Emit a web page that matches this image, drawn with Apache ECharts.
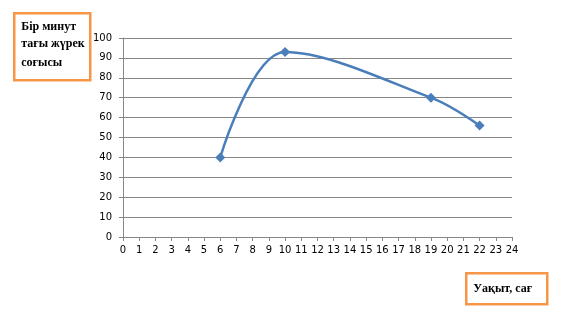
<!DOCTYPE html>
<html>
<head>
<meta charset="utf-8">
<script src="https://cdn.jsdelivr.net/npm/echarts@6/dist/echarts.min.js"></script>
<style>
html,body{margin:0;padding:0;background:#fff;}
#c{width:567px;height:325px;}
</style>
</head>
<body>
<div id="c"></div>
<script>
const hours = [6, 10, 19, 22];
const beats = [40, 93, 70, 56];
const yLabel = ['Бір минут', 'тағы жүрек', 'соғысы'];
const xLabel = 'Уақыт, сағ';

const chart = echarts.init(document.getElementById('c'), null, {renderer: 'canvas'});
const axisColor = '#878787';
const boxFont = 'bold 12px "Liberation Serif"';
chart.setOption({
  animation: false,
  backgroundColor: '#fff',
  grid: {left: 123, top: 38, right: 55, bottom: 88},
  xAxis: {
    type: 'value', min: 0, max: 24, interval: 1,
    axisLine: {show: true, lineStyle: {color: axisColor, width: 1}},
    axisTick: {show: true, length: 4, lineStyle: {color: axisColor}},
    axisLabel: {color: '#000', fontFamily: 'DejaVu Sans', fontSize: 10, margin: 8},
    splitLine: {show: false}
  },
  yAxis: {
    type: 'value', min: 0, max: 100, interval: 10,
    axisLine: {show: true, lineStyle: {color: axisColor, width: 1}},
    axisTick: {show: true, length: 4, lineStyle: {color: axisColor}},
    axisLabel: {color: '#000', fontFamily: 'DejaVu Sans', fontSize: 10, margin: 11},
    splitLine: {show: true, lineStyle: {color: axisColor, width: 1}}
  },
  series: [{
    type: 'line',
    data: hours.map((h, i) => [h, beats[i]]),
    smooth: 0.35,
    symbol: 'diamond',
    symbolSize: 10,
    lineStyle: {color: '#4a7ebb', width: 2.5},
    itemStyle: {color: '#4a7ebb'}
  }],
  graphic: [
    {
      type: 'group', left: 13, top: 12,
      children: [
        {type: 'rect', shape: {x: 0, y: 0, width: 76, height: 67},
         style: {fill: '#fff', stroke: '#f79646', lineWidth: 2.5}},
        {type: 'text', x: 7, y: 14, style: {text: yLabel[0], fill: '#000', font: boxFont, verticalAlign: 'middle'}},
        {type: 'text', x: 7, y: 31, style: {text: yLabel[1], fill: '#000', font: boxFont, verticalAlign: 'middle'}},
        {type: 'text', x: 7, y: 50, style: {text: yLabel[2], fill: '#000', font: boxFont, verticalAlign: 'middle'}}
      ]
    },
    {
      type: 'group', left: 465, top: 272,
      children: [
        {type: 'rect', shape: {x: 0, y: 0, width: 81, height: 31},
         style: {fill: '#fff', stroke: '#f79646', lineWidth: 2.5}},
        {type: 'text', x: 7, y: 16, style: {text: xLabel, fill: '#000', font: boxFont, verticalAlign: 'middle'}}
      ]
    }
  ]
});
</script>
</body>
</html>
